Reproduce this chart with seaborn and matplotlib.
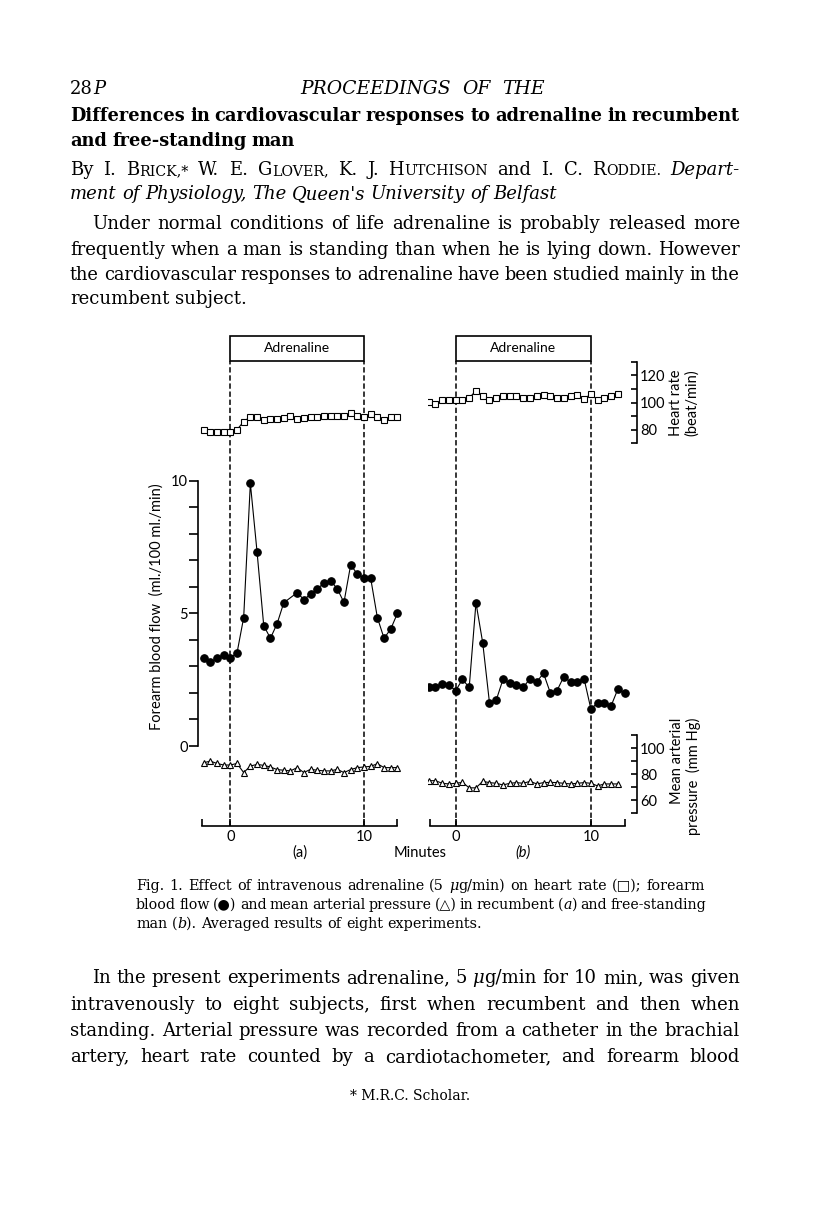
import matplotlib
matplotlib.use("Agg")
import matplotlib.pyplot as plt
import matplotlib.transforms as mtransforms
from matplotlib.patches import Rectangle
import seaborn as sns

W, H = 816, 1213  # page size in pixels at dpi 100

# ---- values (time in minutes from start of infusion) ----
# (a) recumbent
hr_min_a = [-2.0, -1.5, -1.0, -0.5, 0.0, 0.5, 1.0, 1.5, 2.0, 2.5, 3.0, 3.5, 4.0, 4.5, 5.0,
            5.5, 6.0, 6.5, 7.0, 7.5, 8.0, 8.5, 9.0, 9.5, 10.0, 10.5, 11.0, 11.5, 12.0, 12.5]
hr_a = [80, 78.5, 78.5, 78.5, 78.5, 80, 86, 89.5, 89.5, 87, 88, 88, 88.5, 90, 88,
        88.5, 89, 89, 90, 90, 90, 90, 92, 90, 89, 91.5, 89, 87.5, 89.5, 89.5]
flow_min_a = [-2.0, -1.5, -1.0, -0.5, 0.0, 0.5, 1.0, 1.5, 2.0, 2.5, 3.0, 3.5, 4.0, 5.0,
              5.5, 6.0, 6.5, 7.0, 7.5, 8.0, 8.5, 9.0, 9.5, 10.0, 10.5, 11.0, 11.5, 12.0, 12.5]
flow_a = [3.30, 3.17, 3.30, 3.42, 3.33, 3.50, 4.84, 9.90, 7.32, 4.54, 4.06, 4.61, 5.40, 5.78,
          5.52, 5.72, 5.93, 6.13, 6.23, 5.93, 5.41, 6.82, 6.49, 6.32, 6.32, 4.84, 4.06, 4.41, 5.00]
map_min_a = [-2.0, -1.5, -1.0, -0.5, 0.0, 0.5, 1.0, 1.5, 2.0, 2.5, 3.0, 3.5, 4.0, 4.5, 5.0,
             5.5, 6.0, 6.5, 7.0, 7.5, 8.0, 8.5, 9.0, 9.5, 10.0, 10.5, 11.0, 11.5, 12.0, 12.5]
map_a = [88.7, 90, 88.2, 87, 87, 88.2, 81.2, 86.2, 87.5, 86.7, 85.5, 83.5, 83, 82.5, 85,
         81.2, 83.7, 83, 82.5, 82.5, 83.7, 81.2, 83.5, 85, 85.5, 86, 88, 85, 85, 85]

# (b) free-standing
hr_min_b = [-2.0, -1.5, -1.0, -0.5, 0.0, 0.5, 1.0, 1.5, 2.0, 2.5, 3.0, 3.5, 4.0, 4.5, 5.0,
            5.5, 6.0, 6.5, 7.0, 7.5, 8.0, 8.5, 9.0, 9.5, 10.0, 10.5, 11.0, 11.5, 12.0]
hr_b = [100.7, 99, 101.5, 101.5, 101.5, 101.5, 103.3, 108.7, 104.5, 101.5, 103.3, 105, 105, 105, 103.3,
        103.3, 105, 105.7, 105, 103.3, 103.3, 105, 105.7, 102.5, 106.2, 102, 103.3, 105, 106.2]
flow_min_b = [-2.0, -1.5, -1.0, -0.5, 0.0, 0.5, 1.0, 1.5, 2.0, 2.5, 3.0, 3.5, 4.0, 4.5, 5.0,
              5.5, 6.0, 6.5, 7.0, 7.5, 8.0, 8.5, 9.0, 9.5, 10.0, 10.5, 11.0, 11.5, 12.0, 12.5]
flow_b = [2.21, 2.21, 2.32, 2.29, 2.09, 2.51, 2.21, 5.40, 3.89, 1.63, 1.73, 2.51, 2.39, 2.30, 2.21,
          2.54, 2.42, 2.74, 2.01, 2.09, 2.61, 2.41, 2.41, 2.54, 1.41, 1.61, 1.63, 1.51, 2.14, 1.99]
map_min_b = [-2.0, -1.5, -1.0, -0.5, 0.0, 0.5, 1.0, 1.5, 2.0, 2.5, 3.0, 3.5, 4.0, 4.5, 5.0,
             5.5, 6.0, 6.5, 7.0, 7.5, 8.0, 8.5, 9.0, 9.5, 10.0, 10.5, 11.0, 11.5, 12.0]
map_b = [75, 75, 73, 72.5, 73, 73.7, 69.5, 69.5, 74.5, 73.5, 73, 71.7, 73, 73.5, 73,
         74.5, 72.5, 73.5, 73.7, 73.5, 73, 72.5, 73, 73.5, 73, 71, 72.5, 72.5, 72.5]

infusion = (0, 10)
minute_ticks = [0, 10]
flow_ticks = [0, 1, 2, 3, 4, 5, 6, 7, 8, 9, 10]
flow_tick_labels = ["0", "", "", "", "", "5", "", "", "", "", "10"]
hr_ticks = [70, 80, 90, 100, 110, 120, 130]
hr_tick_labels = ["", "80", "", "100", "", "120", ""]
map_ticks = [50, 60, 70, 80, 90, 100, 110]
map_tick_labels = ["", "60", "", "80", "", "100", ""]

sns.set_theme(style="ticks")
plt.rcParams["font.family"] = ["Lato", "DejaVu Sans"]
plt.rcParams["text.color"] = "black"
plt.rcParams["xtick.color"] = "black"
plt.rcParams["ytick.color"] = "black"
plt.rcParams["xtick.labelcolor"] = "black"
plt.rcParams["ytick.labelcolor"] = "black"
SERIF = ["DejaVu Serif", "DejaVu Sans"]
SANS = ["Lato", "DejaVu Sans"]

fig = plt.figure(figsize=(W / 100, H / 100), dpi=100)
fig.patch.set_facecolor("white")

TOP, BOTTOM = 336, 826       # pixel rows of the figure block
BOX_BOTTOM = 361             # lower edge of the "Adrenaline" box


def span(v1, p1, v2, p2, a_px, b_px):
    """Data limits for an axis whose ends sit at pixels a_px, b_px (two reference ticks given)."""
    k = (p2 - p1) / (v2 - v1)
    return v1 + (a_px - p1) / k, v1 + (b_px - p1) / k


def trace(ax, x, y, marker, size, face):
    sns.lineplot(x=x, y=y, ax=ax, color="black", linewidth=0.8, marker=marker,
                 markersize=size, markerfacecolor=face, markeredgecolor="black",
                 markeredgewidth=0.8, estimator=None, sort=False, zorder=3)


def panel(left, right, x0px, x10px, hr, flow, mp, bracket):
    rect = [left / W, 1 - BOTTOM / H, (right - left) / W, (BOTTOM - TOP) / H]
    ax = fig.add_axes(rect)
    ax.patch.set_alpha(0)
    hr_ax = ax.twinx()
    map_ax = ax.twinx()

    trace(ax, flow[0], flow[1], "o", 5.4, "black")
    trace(hr_ax, hr[0], hr[1], "s", 4.4, "white")
    trace(map_ax, mp[0], mp[1], "^", 4.2, "white")

    xlim = span(0, x0px, 10, x10px, left, right)
    for a in (ax, hr_ax, map_ax):
        a.set_xlim(xlim)
        for s in a.spines.values():
            s.set_visible(False)
        a.tick_params(left=False, right=False, labelleft=False, labelright=False)
        a.set_xlabel("")
        a.set_ylabel("")
    ax.set_ylim(span(0, 746, 10, 480.7, BOTTOM, TOP))
    hr_ax.set_ylim(span(70, 443.3, 130, 361.7, BOTTOM, TOP))
    map_ax.set_ylim(span(50, 813.3, 110, 735, BOTTOM, TOP))

    # minutes bracket along the bottom
    ax.spines["bottom"].set_visible(True)
    ax.spines["bottom"].set_bounds(*bracket)
    ax.spines["bottom"].set_linewidth(1.2)
    ax.spines["bottom"].set_color("black")
    ax.set_xticks([bracket[0]] + minute_ticks + [bracket[1]])
    ax.set_xticklabels([""] + [str(t) for t in minute_ticks] + [""], fontsize=10.5, family=SANS)
    ax.tick_params(axis="x", direction="in", length=5, width=1.2, pad=3, color="black")

    # infusion period: box and dashed markers
    frac = (BOTTOM - BOX_BOTTOM) / (BOTTOM - TOP)
    blend = mtransforms.blended_transform_factory(ax.transData, ax.transAxes)
    ax.add_patch(Rectangle((infusion[0], frac), infusion[1] - infusion[0], 1 - frac,
                           transform=blend, fill=False, lw=1.2, ec="black", clip_on=False))
    ax.text(sum(infusion) / 2, (1 + frac) / 2, "Adrenaline", transform=blend,
            ha="center", va="center", fontsize=10, family=SANS)
    for t in infusion:
        ax.axvline(t, ymin=0, ymax=frac, color="black", lw=1.1, ls=(0, (3.5, 1.8)), zorder=1)
    return ax, hr_ax, map_ax


ax_a, hr_a_ax, map_a_ax = panel(198, 402, 230.3, 364, (hr_min_a, hr_a), (flow_min_a, flow_a),
                                (map_min_a, map_a), (-2.1, 12.45))
ax_b, hr_b_ax, map_b_ax = panel(428, 636.5, 455.7, 590.8, (hr_min_b, hr_b), (flow_min_b, flow_b),
                                (map_min_b, map_b), (-1.9, 12.5))

# forearm blood flow scale on the left of (a)
ax_a.spines["left"].set_visible(True)
ax_a.spines["left"].set_bounds(0, 10)
ax_a.spines["left"].set_linewidth(1.2)
ax_a.spines["left"].set_color("black")
ax_a.set_yticks(flow_ticks)
ax_a.set_yticklabels(flow_tick_labels, fontsize=10.5, family=SANS)
ax_a.tick_params(axis="y", left=True, labelleft=True, direction="out", length=6.5,
                 width=1.2, pad=1, color="black")

# heart-rate and pressure scales on the right of (b)
for a, ticks, labels in ((hr_b_ax, hr_ticks, hr_tick_labels), (map_b_ax, map_ticks, map_tick_labels)):
    a.spines["right"].set_visible(True)
    a.spines["right"].set_bounds(ticks[0], ticks[-1])
    a.spines["right"].set_linewidth(1.2)
    a.spines["right"].set_color("black")
    a.set_yticks(ticks)
    a.set_yticklabels(labels, fontsize=10.5, family=SANS)
    a.tick_params(axis="y", right=True, labelright=True, direction="in", length=4.5,
                  width=1.2, pad=2.5, color="black")


def px(x, y):
    return x / W, 1 - y / H


LAB = 10.5
fig.text(*px(157, 607), "Forearm blood flow  (ml./100 ml./min)", rotation=90,
         ha="center", va="center", fontsize=LAB, family=SANS)
fig.text(*px(676, 403), "Heart rate", rotation=90, ha="center", va="center", fontsize=LAB, family=SANS)
fig.text(*px(692, 403), "(beat/min)", rotation=90, ha="center", va="center", fontsize=LAB, family=SANS)
fig.text(*px(677, 718), "Mean arterial", rotation=90, ha="center", va="top", fontsize=LAB, family=SANS)
fig.text(*px(693, 718), "pressure  (mm Hg)", rotation=90, ha="center", va="top", fontsize=LAB, family=SANS)
fig.text(*px(300, 853), "(a)", ha="center", va="center", fontsize=LAB, family=SANS)
fig.text(*px(420, 853), "Minutes", ha="center", va="center", fontsize=LAB, family=SANS)
fig.text(*px(523, 853), "(b)", ha="center", va="center", fontsize=LAB, family=SANS, style="italic")


# ---- page text ----
renderer = fig.canvas.get_renderer()


def words_line(text, x0, base, size, x1=None, weight="normal", style="normal"):
    """Write one line word by word; with x1 the words are spread to fill x0..x1
    (shrinking the type a little if they would not fit).
    '|' joins segments of a word, '_' marks italic, '~' marks small capitals."""
    words = []
    for word in text.split(" "):
        parts = []
        for seg in word.split("|"):
            st, sz = style, size
            if seg.startswith("_"):
                seg, st = seg[1:], "italic"
            elif seg.startswith("~"):
                seg, sz = seg[1:].upper(), size * 0.78
            t = fig.text(0, 1 - base / H, seg, fontsize=sz, fontstyle=st, fontweight=weight,
                         family=SERIF, va="baseline", ha="left", color="black")
            parts.append([t, t.get_window_extent(renderer).width])
        words.append(parts)
    em = size * 100 / 72
    n = len(words)
    total = sum(w for p in words for _, w in p)
    gap = em * 0.3
    if x1 is not None and n > 1:
        min_gap = em * 0.26
        if total + min_gap * (n - 1) > x1 - x0:
            k = (x1 - x0) / (total + min_gap * (n - 1))
            for p in words:
                for seg in p:
                    seg[0].set_fontsize(seg[0].get_fontsize() * k)
                    seg[1] *= k
            total *= k
        gap = (x1 - x0 - total) / (n - 1)
    x = x0
    for p in words:
        for t, w in p:
            t.set_x(x / W)
            x += w
        x += gap


R = 740
BODY = 13
words_line("28|_P", 70, 94, 13)
words_line("PROCEEDINGS OF THE", 300, 94, 13.5, x1=545, style="italic")
words_line("Differences in cardiovascular responses to adrenaline in recumbent", 70, 121, 13.2, x1=R, weight="bold")
words_line("and free-standing man", 70, 146, 12.8, weight="bold")
words_line("By I. B|~rick,* W. E. G|~lover, K. J. H|~utchison and I. C. R|~oddie. _Depart-", 70, 175, BODY, x1=R)
words_line("ment of Physiology, The Queen's University of Belfast", 70, 199, BODY, style="italic")
words_line("Under normal conditions of life adrenaline is probably released more", 92, 229, BODY, x1=R)
words_line("frequently when a man is standing than when he is lying down. However", 70, 255, BODY, x1=R)
words_line("the cardiovascular responses to adrenaline have been studied mainly in the", 70, 280, BODY, x1=R)
words_line("recumbent subject.", 70, 304, BODY)

CR = 705
CAP = 10.4
words_line("Fig. 1. Effect of intravenous adrenaline (5 _μ|g/min) on heart rate (\u25a1); forearm", 136, 890, CAP, x1=CR)
words_line("blood flow (\u25cf) and mean arterial pressure (\u25b3) in recumbent (|_a|) and free-standing", 136, 909, CAP, x1=CR)
words_line("man (|_b|). Averaged results of eight experiments.", 136, 928, CAP)

words_line("In the present experiments adrenaline, 5 _μ|g/min for 10 min, was given", 92, 983, BODY, x1=R)
words_line("intravenously to eight subjects, first when recumbent and then when", 70, 1010, BODY, x1=R)
words_line("standing. Arterial pressure was recorded from a catheter in the brachial", 70, 1036, BODY, x1=R)
words_line("artery, heart rate counted by a cardiotachometer, and forearm blood", 70, 1062, BODY, x1=R)
fig.text(*px(410, 1100), "* M.R.C. Scholar.", ha="center", va="baseline", fontsize=10,
         family=SERIF, color="black")

fig.savefig("out.png", dpi=100, facecolor="white")
